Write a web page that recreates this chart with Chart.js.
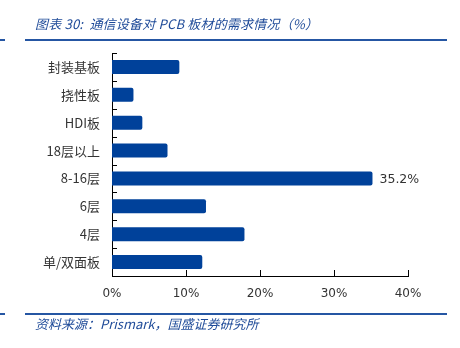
<!DOCTYPE html>
<html>
<head>
<meta charset="utf-8">
<script src="https://cdn.jsdelivr.net/npm/chart.js@4"></script>
<style>
  body { margin: 0; background: #fff; }
  #wrap { position: relative; width: 460px; height: 348px; overflow: hidden; }
  #c { position: absolute; left: 0; top: 0; }
  .txt { position: absolute; font-family: "Noto Sans CJK SC", sans-serif; font-style: italic; color: #1f4b99; font-size: 13px; white-space: nowrap; }
  .rule { position: absolute; height: 2px; background: #2556a3; }
</style>
</head>
<body>
<div id="wrap">
  <canvas id="c" width="460" height="348"></canvas>
  <div class="txt" style="left:35px; top:14px; letter-spacing:0.2px;">图表 30:&nbsp; 通信设备对 PCB 板材的需求情况（%）</div>
  <div class="rule" style="left:0; width:5px; top:39px;"></div>
  <div class="rule" style="left:25px; width:422px; top:39px;"></div>
  <div class="rule" style="left:0; width:5px; top:313px;"></div>
  <div class="rule" style="left:25px; width:422px; top:313px;"></div>
  <div class="txt" style="left:35px; top:314px;">资料来源：Prismark，国盛证券研究所</div>
</div>
<script>
// categories and values (%)
const categories = ["封装基板", "挠性板", "HDI板", "18层以上", "8-16层", "6层", "4层", "单/双面板"];
const shares = [9.1, 2.9, 4.1, 7.5, 35.2, 12.7, 17.9, 12.2];
const xTicks = [0, 10, 20, 30, 40];

// small inward ticks + value label on the biggest bar
const extras = {
    id: "extras",
    afterDraw(chart) {
        const ctx = chart.ctx;
        const x = chart.scales.x, y = chart.scales.y;
        ctx.save();
        ctx.strokeStyle = "#000";
        ctx.lineWidth = 1;
        ctx.beginPath();
        for (let i = 0; i <= categories.length; i++) {
            let py = Math.round(y.getPixelForValue(i - 0.5)) + 0.5;
            ctx.moveTo(x.left, py);
            ctx.lineTo(x.left + 5, py);
        }
        xTicks.slice(1).forEach(t => {
            let px = Math.round(x.getPixelForValue(t)) + 0.5;
            ctx.moveTo(px, y.bottom);
            ctx.lineTo(px, y.bottom - 6);
        });
        ctx.stroke();

        let maxI = shares.indexOf(Math.max(...shares));
        let bar = chart.getDatasetMeta(0).data[maxI];
        ctx.fillStyle = "#333";
        ctx.font = "12.5px 'DejaVu Sans'";
        ctx.textBaseline = "middle";
        ctx.fillText(shares[maxI].toFixed(1) + "%", bar.x + 7, bar.y + 1);
        ctx.restore();
    }
};

new Chart(document.getElementById("c"), {
    type: "bar",
    data: {
        labels: categories,
        datasets: [{
            data: shares,
            backgroundColor: "#00419a",
            borderRadius: 2,
            borderSkipped: "start",
            barPercentage: 0.5,
            categoryPercentage: 1
        }]
    },
    options: {
        indexAxis: "y",
        responsive: false,
        animation: false,
        layout: { padding: { left: 0, right: 52, top: 53, bottom: 0 } },
        plugins: { legend: { display: false }, tooltip: { enabled: false } },
        scales: {
            x: {
                min: 0, max: 40,
                afterBuildTicks: s => { s.ticks = xTicks.map(v => ({ value: v })); },
                afterFit: s => { s.height = 72; },
                grid: { display: false, drawTicks: false, tickLength: 0 },
                border: { display: true, color: "#000", width: 1 },
                ticks: {
                    padding: 11,
                    color: "#333",
                    font: { family: "DejaVu Sans", size: 12 },
                    callback: v => v + "%"
                }
            },
            y: {
                afterFit: s => { s.width = 112; },
                grid: { display: false, drawTicks: false, tickLength: 0 },
                border: { display: true, color: "#000", width: 1 },
                ticks: {
                    padding: 12,
                    color: "#333",
                    font: { family: "Noto Sans CJK SC", size: 13 }
                }
            }
        }
    },
    plugins: [extras]
});
</script>
</body>
</html>
